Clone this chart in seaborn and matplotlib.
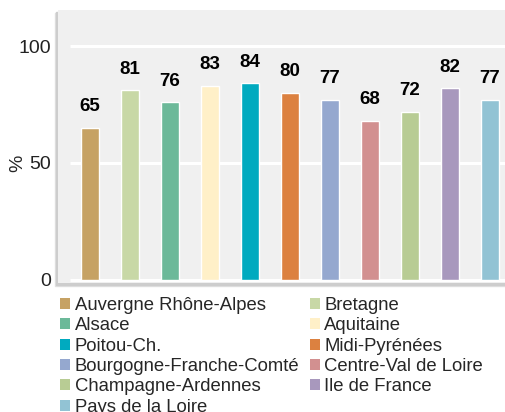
import matplotlib
matplotlib.use("Agg")
import matplotlib.pyplot as plt
from matplotlib.patches import Rectangle, Patch
import matplotlib.transforms as mtransforms
import seaborn as sns
import pandas as pd

regions = ["Auvergne Rhône-Alpes", "Bretagne", "Alsace", "Aquitaine", "Poitou-Ch.",
           "Midi-Pyrénées", "Bourgogne-Franche-Comté", "Centre-Val de Loire",
           "Champagne-Ardennes", "Ile de France", "Pays de la Loire"]
values = [65, 81, 76, 83, 84, 80, 77, 68, 72, 82, 77]
colors = ["#c6a264", "#c8d8a6", "#6cb999", "#fff0c8", "#00aabf", "#dc8140",
          "#95a8cf", "#d29090", "#b8cc94", "#a898bd", "#92c3d4"]
yticks = [0, 50, 100]

df = pd.DataFrame({"region": regions, "pct": values})

sns.set_style("white")
plt.rcParams["font.family"] = ["Liberation Sans", "DejaVu Sans"]

fig = plt.figure(figsize=(5.06, 4.12), dpi=100)
W, H = 506, 412

# soft panel shadow (left and bottom)
for off, col in [(3, "#e2e2e2"), (2, "#cdcdcd")]:
    fig.patches.append(Rectangle(((58 - off) / W, (129 - off) / H), 480 / W, 273 / H,
                                 transform=fig.transFigure, color=col, zorder=-5))

ax = fig.add_axes([58 / W, 129 / H, (520 - 58) / W, 273 / H])
ax.set_zorder(1)
ax.set_facecolor("#f0f0f0")

for y in yticks:
    ax.hlines(y, -0.5, 11, color="white", lw=2.2, zorder=1)

sns.barplot(data=df, x="region", y="pct", hue="region", palette=colors,
            width=0.43, legend=False, ax=ax, zorder=2, saturation=1)

for i, v in enumerate(values):
    ax.annotate(str(v), (i, v), xytext=(0, 9), textcoords="offset points",
                ha="center", va="bottom", fontsize=13.5, fontweight="bold",
                color="black")

ax.set_xlim(-0.8, 10.75)
ax.set_ylim(-1.3, 115.4)
ax.set_yticks(yticks)
ax.set_xticks([])
ax.tick_params(axis="y", length=0, labelsize=14, labelcolor="#222222", pad=5)
ax.set_xlabel("")
ax.set_ylabel("")
trans = mtransforms.blended_transform_factory(fig.transFigure, ax.transData)
ax.text(18 / W, 50, "%", transform=trans, rotation=90, fontsize=14,
        ha="center", va="center")
for s in ax.spines.values():
    s.set_visible(False)

# legend, row-major order in two columns
handles = [Patch(facecolor=c, edgecolor="none") for c in colors]
order = list(range(0, 11, 2)) + list(range(1, 11, 2))
fig.legend([handles[i] for i in order], [regions[i] for i in order],
           ncol=2, loc="upper left", bbox_to_anchor=(60 / W, (H - 297) / H),
           frameon=False, fontsize=13.3, handlelength=0.55, handleheight=0.55,
           handletextpad=0.25, labelspacing=0.18, columnspacing=0.55, borderpad=0,
           borderaxespad=0)

fig.savefig("out.png", dpi=100)
